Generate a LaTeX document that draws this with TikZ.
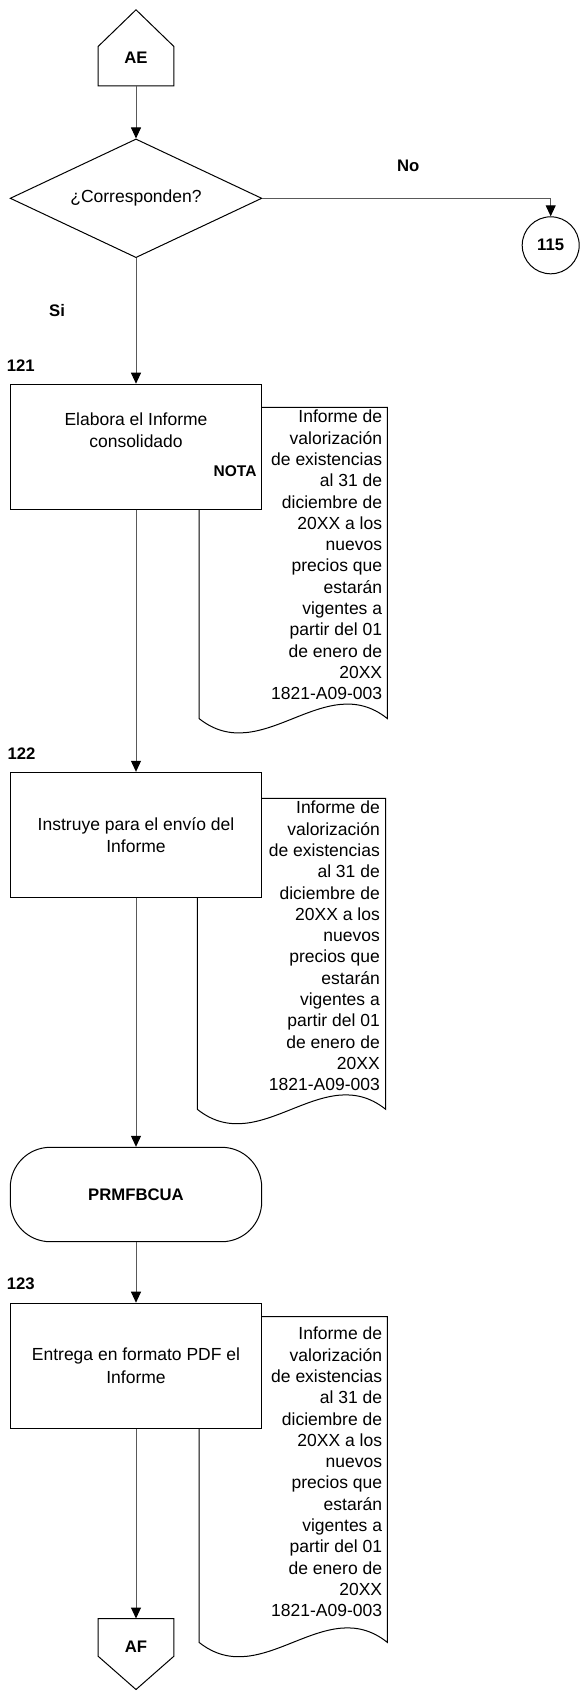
\documentclass[tikz,border=0pt]{standalone}
\usepackage{fontspec}
\setmainfont{Liberation Sans}
\usetikzlibrary{shapes.geometric,arrows.meta,calc}

\begin{document}
\begin{tikzpicture}[x=1pt,y=-1pt,
  every node/.style={inner sep=0pt},
  txt/.style={font=\fontsize{17.5}{21.3}\selectfont},
  boxtxt/.style={font=\fontsize{17.5}{22.3}\selectfont, align=center},
  lbl/.style={font=\fontsize{16.7}{20}\selectfont\bfseries},
  line/.style={draw=black, line width=1pt},
  arr/.style={draw=black!65, line width=1pt, -{Triangle[length=11pt,width=10pt,color=black]}},
  procbox/.style={line, fill=white, minimum width=251.4pt, minimum height=125pt, boxtxt},
  decision/.style={diamond, line, fill=white, aspect=2.12, minimum width=251.7pt, minimum height=118.7pt, txt},
  terminal/.style={line, fill=white, rounded corners=40pt, minimum width=251.4pt, minimum height=94.4pt, lbl},
  connector/.style={circle, line, minimum size=57pt, lbl},
  doctxt/.style={txt, align=right, anchor=east},
  docshape/.style={line, fill=white}
]
\useasboundingbox (0,0) rectangle (580,1691);

% off-page connector (entry)
\node[lbl, minimum width=75.4pt, text height=16.7pt, text depth=22.3pt] (ae) at (136,66.2) {AE};
\draw[line] (ae.south west) -- (ae.north west) -- ($(ae.north)+(0,-36.7)$) -- (ae.north east) -- (ae.south east) -- cycle;

% decision
\node[decision] (dec) at (136,198.3) {¿Corresponden?};
\node[lbl, anchor=base] (no) at (408.3,171) {No};
\node[connector] (c115) at (550.7,245.3) {115};
\node[lbl, anchor=base] (si) at (57,316.7) {Si};

% documents behind the process boxes
\draw[docshape] (199,407.3) -- (387.3,407.3) -- (387.3,718.5)
  .. controls (324.5,668.5) and (261.8,768.5) .. (199,718.5) -- cycle;
\draw[docshape] (197.3,798.3) -- (385.7,798.3) -- (385.7,1109.3)
  .. controls (322.8,1059.3) and (260.1,1159.3) .. (197.3,1109.3) -- cycle;
\draw[docshape] (199,1316.5) -- (387.3,1316.5) -- (387.3,1642.3)
  .. controls (324.5,1592.3) and (261.8,1692.3) .. (199,1642.3) -- cycle;

\node[doctxt] (doca) at (382.3,555) {Informe de\\valorización\\de existencias\\al 31 de\\diciembre de\\20XX a los\\nuevos\\precios que\\estarán\\vigentes a\\partir del 01\\de enero de\\20XX\\1821-A09-003};
\node[doctxt] (docb) at (380,946) {Informe de\\valorización\\de existencias\\al 31 de\\diciembre de\\20XX a los\\nuevos\\precios que\\estarán\\vigentes a\\partir del 01\\de enero de\\20XX\\1821-A09-003};
\node[doctxt] (docc) at (382.3,1472) {Informe de\\valorización\\de existencias\\al 31 de\\diciembre de\\20XX a los\\nuevos\\precios que\\estarán\\vigentes a\\partir del 01\\de enero de\\20XX\\1821-A09-003};

% step 121
\node[lbl, anchor=base west] (n121) at (6.7,371) {121};
\node[procbox] (b121) at (136,446.7) {};
\node[boxtxt] (t121) at (136,430.5) {Elabora el Informe\\consolidado};
\node[font=\fontsize{15.5}{18}\selectfont\bfseries, anchor=base east] (nota) at (256.7,476.2) {NOTA};

% step 122
\node[lbl, anchor=base west] (n122) at (7.3,759.3) {122};
\node[procbox] (b122) at (136,834.8) {Instruye para el envío del\\Informe};

% sub-procedure
\node[terminal] (prm) at (136,1194.5) {PRMFBCUA};

% step 123
\node[lbl, anchor=base west] (n123) at (6.7,1289.3) {123};
\node[procbox] (b123) at (136,1365.7) {Entrega en formato PDF el\\Informe};

% off-page connector (exit)
\node[lbl, minimum width=75.4pt, text height=33.4pt, text depth=3.9pt] (af) at (136,1637.35) {AF};
\draw[line] (af.north west) -- (af.north east) -- (af.south east) -- ($(af.south)+(0,33.3)$) -- (af.south west) -- cycle;

% flow
\draw[arr] (ae.south) -- (dec.north);
\draw[arr] (dec.east) -| (c115.north);
\draw[arr] (dec.south) -- (b121.north);
\draw[arr] (b121.south) -- (b122.north);
\draw[arr] (b122.south) -- (prm.north);
\draw[arr] (prm.south) -- (b123.north);
\draw[arr] (b123.south) -- (af.north);
\end{tikzpicture}
\end{document}
